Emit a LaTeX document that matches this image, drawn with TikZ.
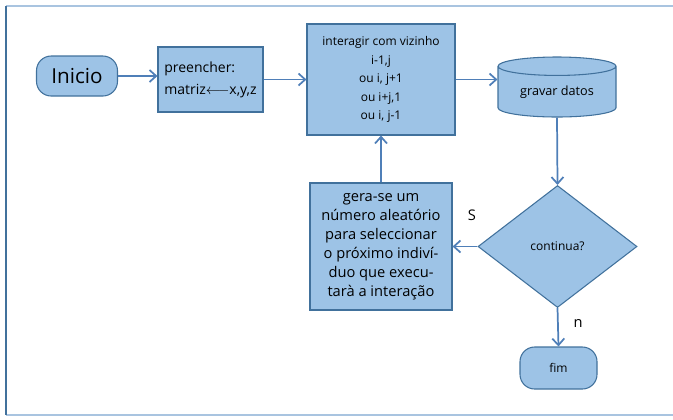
\documentclass[tikz,border=0pt]{standalone}
\usepackage{fontspec}
\setmainfont{Open Sans}
\usetikzlibrary{shapes.geometric,arrows.meta,positioning,calc}
\definecolor{boxfill}{HTML}{9DC3E6}
\definecolor{boxline}{HTML}{41719C}
\definecolor{flow}{HTML}{4F7FB8}
\definecolor{framelight}{HTML}{A9C4E0}

\begin{document}
\begin{tikzpicture}[x=0.75pt,y=-0.75pt,
    blockbox/.style={draw=boxline, fill=boxfill, line width=0.8pt, inner sep=2pt},
    flowline/.style={draw=flow, line width=1.3pt, -{Straight Barb[length=5pt,width=9pt]}},
    endbox/.style={blockbox, rounded corners=11pt},
    tag/.style={fill=white, inner sep=1pt, font=\fontsize{11}{13}\selectfont}]
    \useasboundingbox (0,0) rectangle (673,419);
    % frame
    \draw[framelight, line width=1pt] (6,6) -- (673,6);
    \draw[framelight, line width=1pt] (6,415) -- (673,415);
    \draw[boxline, line width=1.2pt] (6,6) -- (6,415);

    % nodes
    \node[endbox, minimum width=60.75pt, minimum height=30pt, font=\fontsize{15.5}{18}\selectfont] (ini) at (77,76) {Inicio};
    \node[blockbox, minimum width=78.75pt, minimum height=48.75pt, align=left, font=\fontsize{10.5}{16.5}\selectfont] (pre) at (210.5,79.5) {preencher:\\matriz$\longleftarrow$x,y,z};
    \node[blockbox, minimum width=111pt, minimum height=83.25pt, align=center, font=\fontsize{9}{13.9}\selectfont] (int) at (381,79.5) {interagir com vizinho\\i-1,j\\ou i, j+1\\ou i+j,1\\ou i, j-1};
    \node[cylinder, shape border rotate=90, aspect=0.25, draw=boxline, fill=boxfill, line width=0.8pt,
          minimum width=88.5pt, minimum height=45pt, inner sep=0pt, anchor=shape center, font=\fontsize{9.5}{12}\selectfont] (cyl) at (557,87) {gravar datos};
    \node[diamond, draw=boxline, fill=boxfill, line width=0.8pt, inner sep=0pt,
          minimum width=119.25pt, minimum height=91.5pt, font=\fontsize{9}{11}\selectfont] (dec) at (557.5,246.5) {continua?};
    \node[blockbox, minimum width=106.5pt, minimum height=95.25pt, align=center, font=\fontsize{11}{14.25}\selectfont] (gera) at (381,246.5) {gera-se um\\número aleatório\\para seleccionar\\o próximo indiví-\\duo que execu-\\tarà a interação};
    \node[endbox, minimum width=57.75pt, minimum height=31.5pt, font=\fontsize{9}{11}\selectfont] (fim) at (558.5,368) {fim};

    % connectors
    \draw[flowline] (ini.east) -- (ini.east -| pre.west);
    \draw[flowline] (pre.east) -- (pre.east -| int.west);
    \draw[flowline] (int.east) -- (int.east -| cyl.west);
    \draw[flowline] (cyl.south) -- (dec.north);
    \draw[flowline] (dec.west) -- (gera.east);
    \draw[flowline] (gera.north) -- (int.south);
    \draw[flowline] (dec.south) -- (fim.north);

    % labels
    \node[tag] (slabel) at (472,215) {S};
    \node[tag] (nlabel) at (578,323) {n};
\end{tikzpicture}
\end{document}
